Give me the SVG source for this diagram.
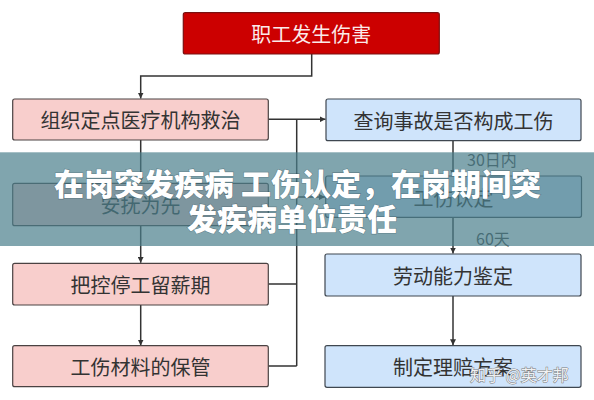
<svg xmlns="http://www.w3.org/2000/svg" width="594" height="400" viewBox="0 0 594 400">
<style>
.box text{font-family:"Noto Sans CJK SC","Noto Sans",sans-serif;font-size:20px;fill:#333;text-anchor:middle}
.l rect{fill:#f8cecc;stroke:#4a4242;stroke-width:1.2}
.r rect{fill:#cfe4fb;stroke:#3f4750;stroke-width:1.2}
.lbl{font-family:"Noto Sans CJK SC","Noto Sans",sans-serif;font-size:16px;fill:#444}
#connectors path{fill:none;stroke:#333;stroke-width:1.5}
.title{font-family:"Noto Sans CJK SC",sans-serif;font-size:30px;font-weight:900;fill:#fff;stroke:rgba(40,60,70,0.35);stroke-width:1.2;paint-order:stroke}
</style>
<defs>
<marker id="ah" viewBox="0 0 10 10" refX="10" refY="5" markerWidth="6" markerHeight="6" markerUnits="userSpaceOnUse" orient="auto">
<path d="M0,0 L10,5 L0,10 z" fill="#333"/>
</marker>
</defs>
<rect width="594" height="400" fill="#fff"/>
<g id="connectors">
<path d="M311.7,54 V76 H140.7 V98.5" marker-end="url(#ah)"/>
<path d="M140.7,140 V182.5" marker-end="url(#ah)"/>
<path d="M140.7,225.7 V262.8" marker-end="url(#ah)"/>
<path d="M140.7,305 V345.5" marker-end="url(#ah)"/>
<path d="M268.3,119.3 H325.5" marker-end="url(#ah)"/>
<path d="M296.7,119.3 V366 M268.3,284 H296.7 M268.3,366 H296.7"/>
<path d="M296.7,197 H325" marker-end="url(#ah)"/>
<path d="M453,140.7 V175.5" marker-end="url(#ah)"/>
<path d="M453,217.3 V253.5" marker-end="url(#ah)"/>
<path d="M453,296 V345.3" marker-end="url(#ah)"/>
</g>
<text class="lbl" x="467" y="166">30日内</text>
<text class="lbl" x="476" y="245">60天</text>
<g id="n-top" class="box">
<rect x="183.3" y="12.7" width="256" height="41.3" rx="2" fill="#cc0000" stroke="#7a1010" stroke-width="1.2"/>
<text x="311.3" y="42" style="fill:#fbeaea">职工发生伤害</text>
</g>
<g id="n-l1" class="box l">
<rect x="12.7" y="99" width="255.6" height="41" rx="2"/>
<text x="140.5" y="128">组织定点医疗机构救治</text>
</g>
<g id="n-l2" class="box l">
<rect x="12.7" y="183.3" width="255.6" height="42.4" rx="2"/>
<text x="140.5" y="213">安抚为先</text>
</g>
<g id="n-l3" class="box l">
<rect x="12.7" y="263.3" width="255.6" height="41.7" rx="2"/>
<text x="140.5" y="293">把控停工留薪期</text>
</g>
<g id="n-l4" class="box l">
<rect x="12.7" y="345.7" width="255.6" height="41" rx="2"/>
<text x="140.5" y="375">工伤材料的保管</text>
</g>
<g id="n-r1" class="box r">
<rect x="326" y="99" width="255" height="41.7" rx="2"/>
<text x="453.5" y="128.5">查询事故是否构成工伤</text>
</g>
<g id="n-r2" class="box r">
<rect x="325.7" y="176" width="255.8" height="41.3" rx="2"/>
<text x="453.5" y="205.5">工伤认定</text>
</g>
<g id="n-r3" class="box r">
<rect x="325" y="254" width="256" height="42" rx="2"/>
<text x="453" y="283.5">劳动能力鉴定</text>
</g>
<g id="n-r4" class="box r">
<rect x="325" y="345.7" width="256" height="41.6" rx="2"/>
<text x="453" y="375">制定理赔方案</text>
</g>
<rect x="0" y="152.3" width="594" height="93.7" fill="#4a7f8c" fill-opacity="0.7"/>
<text class="title" x="54" y="195" textLength="487" lengthAdjust="spacingAndGlyphs">在岗突发疾病 工伤认定，在岗期间突</text>
<text class="title" x="187" y="230">发疾病单位责任</text>
<text x="470" y="381" style="font-family:'Noto Sans CJK SC',sans-serif;font-size:16px;fill:#ffffff;fill-opacity:0.9;stroke:#7a7a7a;stroke-width:0.9;paint-order:stroke">知乎 @英才邦</text>
</svg>
